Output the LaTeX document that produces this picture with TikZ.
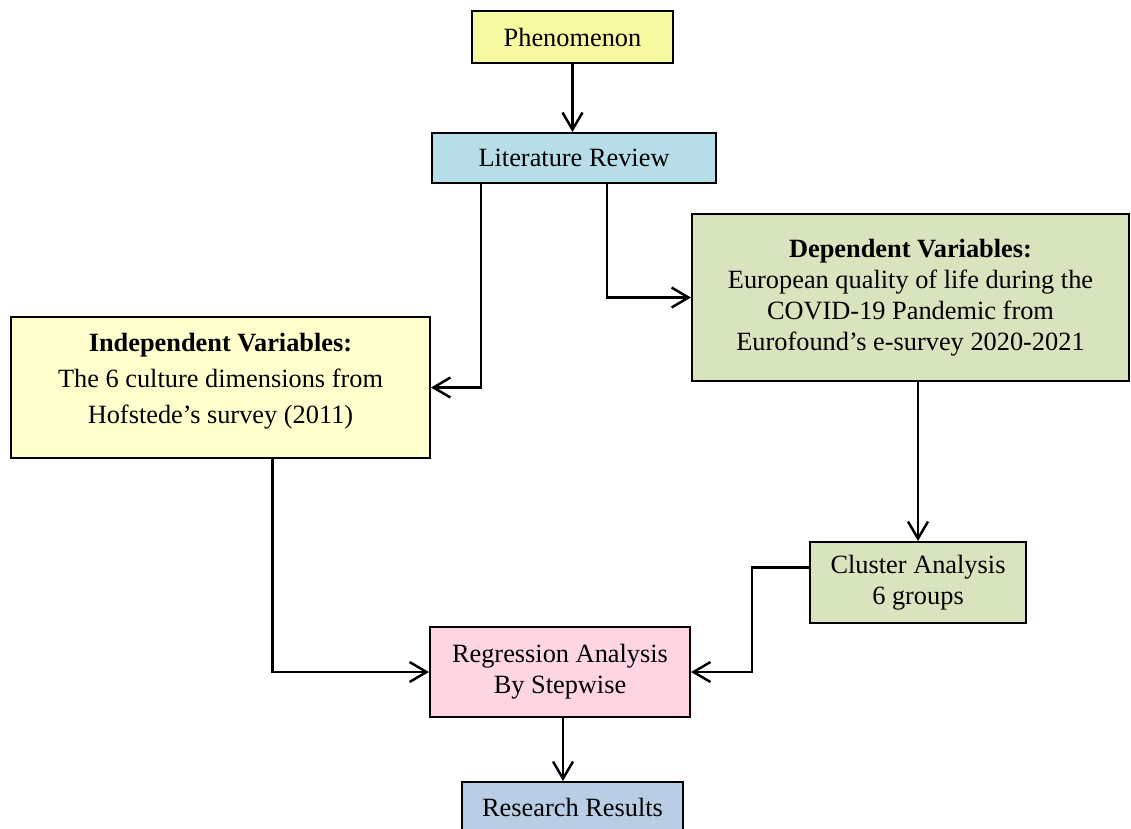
\documentclass[tikz,border=0pt]{standalone}
\usepackage{fontspec}
\setmainfont{Liberation Serif}
\usetikzlibrary{arrows.meta}

\definecolor{phenyellow}{RGB}{246,250,160}
\definecolor{litblue}{RGB}{183,222,232}
\definecolor{depgreen}{RGB}{215,228,189}
\definecolor{indyellow}{RGB}{255,255,206}
\definecolor{regpink}{RGB}{253,214,226}
\definecolor{resblue}{RGB}{185,205,229}

\tikzset{
  box/.style={draw, line width=1.2pt, inner sep=2pt, align=center,
    font=\fontsize{15}{17.6}\selectfont},
  arr/.style={line width=1.4pt, -{Straight Barb[length=0.34cm,width=0.4cm]}}
}

\begin{document}
\begin{tikzpicture}[x=0.02cm, y=-0.02cm]
            \useasboundingbox (0,0) rectangle (1131,828);

            \node[box, fill=phenyellow, minimum width=4.02cm, minimum height=1.04cm] (phen) at (572.5,37) {Phenomenon};
            \node[box, fill=litblue, minimum width=5.68cm, minimum height=1cm] (lit) at (574,158) {Literature Review};
            \node[box, fill=depgreen, minimum width=8.74cm, minimum height=3.34cm] (dep) at (910.5,297.5)
                {\textbf{Dependent Variables:}\\European quality of life during the\\COVID-19 Pandemic from\\Eurofound’s e-survey 2020-2021};
            \node[box, fill=indyellow, minimum width=8.38cm, minimum height=2.82cm,
                font=\fontsize{15}{20.4}\selectfont] (indep) at (220.5,387.5)
                {\textbf{Independent Variables:}\\The 6 culture dimensions from\\Hofstede’s survey (2011)\\[-0.36cm]};
            \node[box, fill=depgreen, minimum width=4.32cm, minimum height=1.62cm] (clus) at (918,582.5) {Cluster Analysis\\6 groups};
            \node[box, fill=regpink, minimum width=5.2cm, minimum height=1.8cm] (reg) at (560,672) {Regression Analysis\\By Stepwise};
            \node[box, fill=resblue, minimum width=4.42cm, minimum height=1cm] (res) at (572.5,807) {Research Results};

            \draw[arr] (phen.south) -- (phen.south |- lit.north);
            \draw[arr] ([xshift=1cm]lit.south west) |- (indep.east);
            \draw[arr] ([xshift=0.66cm]lit.south) |- (dep.west);
            \draw[arr] (dep.south -| clus.north) -- (clus.north);
            \draw[arr] ([yshift=0.3cm]clus.west) -- ++(-57,0) |- (reg.east);
            \draw[arr] ([xshift=1.04cm]indep.south) |- (reg.west);
            \draw[arr] ([xshift=0.06cm]reg.south) -- ([xshift=0.06cm]reg.south |- res.north);
\end{tikzpicture}
\end{document}
